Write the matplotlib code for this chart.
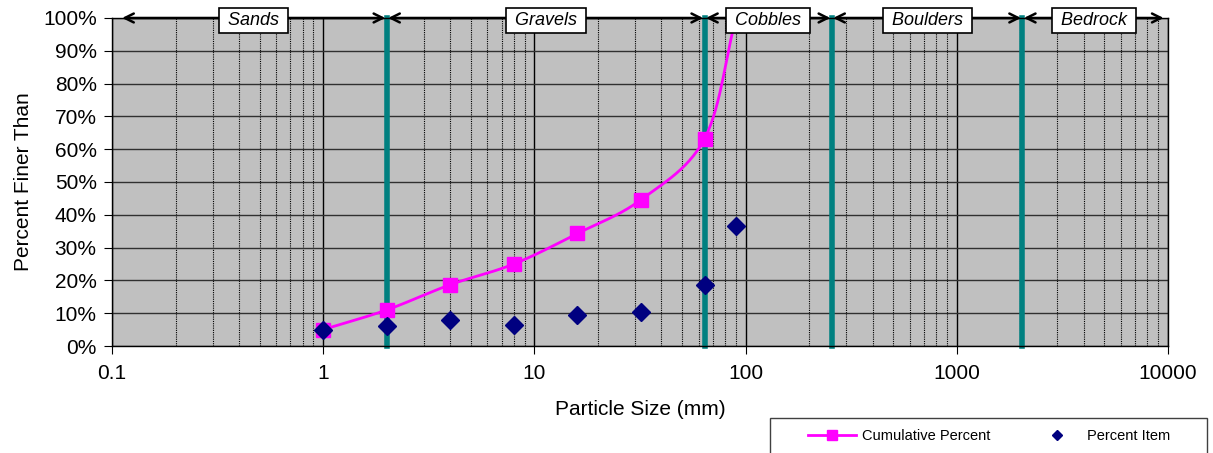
import numpy as np
import matplotlib.pyplot as plt
from matplotlib.patches import Rectangle
from matplotlib.ticker import FixedLocator, NullFormatter, FuncFormatter

plt.rcParams['font.family'] = ['Liberation Sans', 'DejaVu Sans']

# data
sizes = [1, 2, 4, 8, 16, 32, 64, 90]
cumulative = [5.0, 11.0, 18.7, 25.0, 34.3, 44.6, 63.2, 100.0]
item_pct = [5.0, 6.0, 8.0, 6.3, 9.3, 10.5, 18.7, 36.5]
class_bounds = [2, 64, 256, 2048]
class_names = ['Sands', 'Gravels', 'Cobbles', 'Boulders', 'Bedrock']
class_edges = [0.11, 2, 64, 256, 2048, 9700]


def smooth(xs, ys, n=30):
    # Catmull-Rom through the points in log-x space (like Excel's smoothed line)
    lx = np.log10(xs)
    px = np.r_[2 * lx[0] - lx[1], lx, 2 * lx[-1] - lx[-2]]
    py = np.r_[2 * ys[0] - ys[1], ys, 2 * ys[-1] - ys[-2]]
    outx, outy = [], []
    for i in range(1, len(px) - 2):
        t = np.linspace(0, 1, n)
        for p, out in ((px, outx), (py, outy)):
            p0, p1, p2, p3 = p[i - 1], p[i], p[i + 1], p[i + 2]
            out.extend(0.5 * (2 * p1 + (-p0 + p2) * t
                              + (2 * p0 - 5 * p1 + 4 * p2 - p3) * t ** 2
                              + (-p0 + 3 * p1 - 3 * p2 + p3) * t ** 3))
    return 10 ** np.array(outx), np.array(outy)


fig = plt.figure(figsize=(12.13, 4.53), dpi=100)
ax = fig.add_axes([0.0923, 0.2362, 0.8705, 0.7241])
ax.set_facecolor('#C0C0C0')
ax.set_xscale('log')
ax.set_xlim(0.1, 10000)
ax.set_ylim(0, 100)

ax.xaxis.set_major_locator(FixedLocator([0.1, 1, 10, 100, 1000, 10000]))
ax.xaxis.set_major_formatter(FuncFormatter(lambda v, p: f'{v:g}'))
minors = [m * 10.0 ** e for e in range(-1, 4) for m in range(2, 10)]
ax.xaxis.set_minor_locator(FixedLocator(minors))
ax.xaxis.set_minor_formatter(NullFormatter())
ax.set_yticks(np.arange(0, 101, 10))
ax.yaxis.set_major_formatter(FuncFormatter(lambda v, p: f'{v:.0f}%'))

ax.grid(True, which='major', axis='x', color='black', lw=1.0)
ax.grid(True, which='minor', axis='x', color='black', lw=0.8, ls=(0, (1, 1)))
ax.grid(True, which='major', axis='y', color='#303030', lw=1.0)
ax.set_axisbelow(True)
ax.tick_params(axis='both', which='major', labelsize=15, length=6, color='black')
ax.tick_params(axis='x', which='major', pad=7)
ax.tick_params(axis='y', which='major', pad=5)
ax.tick_params(axis='x', which='minor', length=0)
for s in ax.spines.values():
    s.set_color('black')
    s.set_linewidth(1.0)

for b in class_bounds:
    ax.axvline(b, color='#008080', lw=4, zorder=2, clip_on=False, ymin=0, ymax=1)

sx, sy = smooth(sizes, cumulative)
ax.plot(sx, sy, color='#FF00FF', lw=2, zorder=3)
ax.plot(sizes[:-1], cumulative[:-1], ls='none', marker='s', ms=10,
        color='#FF00FF', zorder=4)
ax.plot(sizes, item_pct, ls='none', marker='D', ms=9, color='#000080', zorder=5)

for name, lo, hi in zip(class_names, class_edges[:-1], class_edges[1:]):
    ax.annotate('', xy=(lo, 100), xytext=(hi, 100),
                arrowprops=dict(arrowstyle='<->', lw=1.8, color='black',
                                shrinkA=1, shrinkB=1, mutation_scale=16),
                annotation_clip=False, zorder=6)
    ax.text(np.sqrt(max(lo, 0.1) * min(hi, 10000)), 99.3, f' {name} ',
            style='italic', fontsize=13, ha='center', va='center', zorder=7,
            bbox=dict(boxstyle='square,pad=0.22', fc='white', ec='black', lw=1.2))

ax.set_xlabel('Particle Size (mm)', fontsize=15, labelpad=12)
ax.set_ylabel('Percent Finer Than', fontsize=15, labelpad=7)

# legend box runs off the bottom edge of the image
fig.patches.append(Rectangle((770 / 1213, -0.05), 437 / 1213, 0.05 + 35 / 453,
                             transform=fig.transFigure, fc='white',
                             ec='#404040', lw=1.0))
h1, = ax.plot([], [], color='#FF00FF', lw=2, marker='s', ms=7)
h2, = ax.plot([], [], ls='none', marker='D', ms=5, color='#000080')
fig.legend([h1, h2], ['Cumulative Percent', 'Percent Item'], ncol=2,
           loc='center', bbox_to_anchor=(989 / 1213, 1 - 436 / 453),
           fontsize=10.5, frameon=False, handlelength=3.3, handletextpad=0.4,
           columnspacing=2.9, borderaxespad=0)

fig.savefig('out.png', dpi=100)
